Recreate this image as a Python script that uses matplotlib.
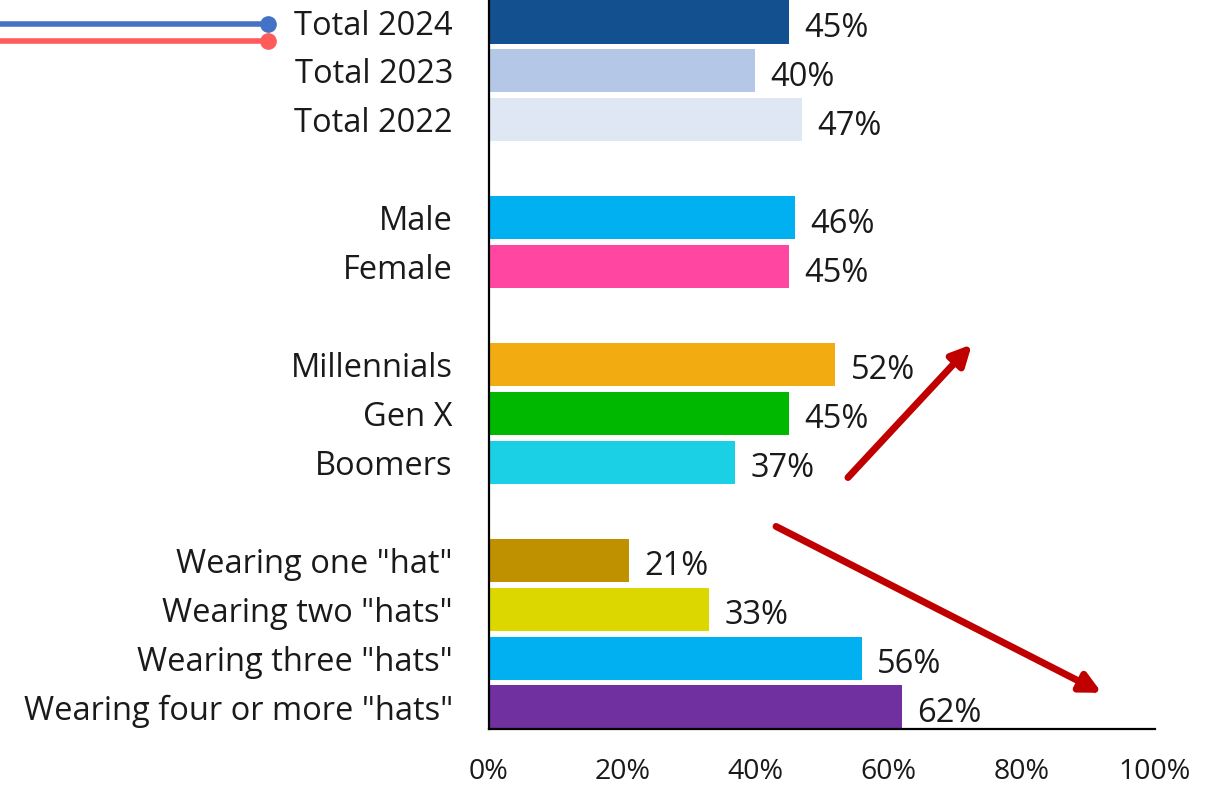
import matplotlib
matplotlib.use("Agg")
import matplotlib.pyplot as plt
from matplotlib.lines import Line2D

plt.rcParams['font.family'] = ['Open Sans', 'DejaVu Sans']

# Data
categories = ["Total 2024", "Total 2023", "Total 2022",
              "Male", "Female",
              "Millennials", "Gen X", "Boomers",
              'Wearing one "hat"', 'Wearing two "hats"',
              'Wearing three "hats"', 'Wearing four or more "hats"']
values = [45, 40, 47, 46, 45, 52, 45, 37, 21, 33, 56, 62]
positions = [0, 1, 2, 4, 5, 7, 8, 9, 11, 12, 13, 14]
colors = ["#12508F", "#B4C7E7", "#DFE7F4",
          "#00B0F0", "#FF47A1",
          "#F2AB10", "#00B800", "#1BD0E4",
          "#BF9000", "#DDD700", "#00B0F0", "#7030A0"]
xticks = [0, 20, 40, 60, 80, 100]
xtick_labels = ["0%", "20%", "40%", "60%", "80%", "100%"]

fig = plt.figure(figsize=(12.21, 7.89), dpi=100)
ax = fig.add_axes([489 / 1221, 1 - 729 / 789, (1155 - 489) / 1221, 729 / 789])

ax.barh(positions, values, height=0.88, color=colors, zorder=2)
for p, v in zip(positions, values):
    ax.text(v + 2.3, p + 0.13, f"{v}%", va="center", ha="left",
            fontsize=23.5, color="#1a1a1a")

ax.set_xlim(0, 100)
ax.set_ylim(14.45, -0.45)
ax.set_yticks(positions)
ax.set_yticklabels(categories, fontsize=23.5, color="#1a1a1a")
ax.set_xticks(xticks)
ax.set_xticklabels(xtick_labels, fontsize=20.5, color="#1a1a1a")
ax.tick_params(axis="both", length=0)
ax.tick_params(axis="y", pad=26)
ax.tick_params(axis="x", pad=21)
for s in ["top", "right"]:
    ax.spines[s].set_visible(False)
ax.spines["left"].set_linewidth(1.6)
ax.spines["bottom"].set_linewidth(1.6)

# Trend arrows
arrow_kw = dict(arrowstyle="-|>,head_length=1.2,head_width=0.6",
                color="#C00000", lw=5, shrinkA=0, shrinkB=0)
ax.annotate("", xy=(72.5, 6.59), xytext=(53.9, 9.31), arrowprops=arrow_kw,
            annotation_clip=False)
ax.annotate("", xy=(92.0, 13.71), xytext=(43.1, 10.31), arrowprops=arrow_kw,
            annotation_clip=False)

# Line markers at top-left
for yv, c in [(24, "#4472C4"), (41, "#FF5B5B")]:
    fy = 1 - yv / 789
    fig.add_artist(Line2D([0, 268 / 1221], [fy, fy], color=c, lw=4,
                          transform=fig.transFigure))
    fig.add_artist(Line2D([268 / 1221], [fy], color=c, marker="o",
                          markersize=11, transform=fig.transFigure))

fig.savefig("out.png", dpi=100)
